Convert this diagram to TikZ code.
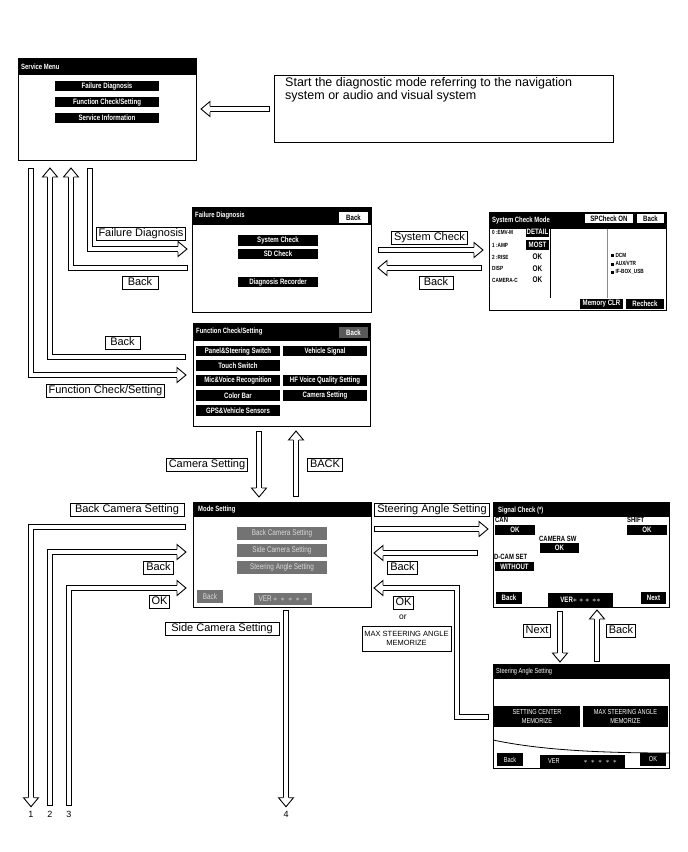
\documentclass[tikz,border=0pt]{standalone}
\usepackage{fontspec}
\setmainfont{Liberation Sans}
\newfontfamily\condfont[FakeStretch=0.78]{Liberation Sans}
\usetikzlibrary{calc}

% hollow pipe arrow: #1 head rotation, #2 path
\newcommand\hpipe[2]{%
  \draw[pipe] #2 coordinate (pipeend);
  \pic[rotate=#1] at (pipeend) {hhead};}

\begin{document}
\begin{tikzpicture}[
  x=1pt, y=-1pt,
  screen/.style={draw, line width=1pt, anchor=north west, inner sep=0pt},
  ttl/.style={anchor=west, text=white, inner sep=0pt,
              font=\condfont\bfseries\fontsize{7.6}{8}\selectfont},
  btn/.style={fill=black, text=white, inner sep=0pt, minimum height=10pt,
              font=\condfont\bfseries\fontsize{7.8}{8}\selectfont},
  wbtn/.style={btn, fill=white, text=black},
  gbtn/.style={btn, fill=black!55, text=white!85!black, minimum height=13pt,
               font=\condfont\fontsize{8.2}{9}\selectfont},
  sbtn/.style={btn, font=\condfont\fontsize{7.2}{8.4}\selectfont},
  sml/.style={anchor=west, inner sep=0pt,
              font=\condfont\bfseries\fontsize{6}{6.5}\selectfont},
  lab/.style={anchor=west, inner sep=0pt,
              font=\condfont\bfseries\fontsize{7.6}{8}\selectfont},
  val/.style={inner sep=0pt, font=\condfont\bfseries\fontsize{8.2}{9}\selectfont},
  box/.style={draw, line width=0.8pt, fill=white, inner xsep=2.4pt, inner ysep=1.4pt},
  lbl/.style={box, font=\fontsize{11}{12}\selectfont, text height=8pt, text depth=2.3pt},
  num/.style={font=\fontsize{9}{10}\selectfont, inner sep=1pt},
  pipe/.style={draw=white, line width=4.6pt, shorten <=0.9pt, shorten >=8.5pt,
               preaction={draw=black, line width=6.4pt, shorten <=0pt, shorten >=8.5pt}},
  hhead/.pic={\filldraw[draw=black, fill=white, line width=0.9pt, line join=miter]
                (-9,2.75) -- (-9,7.5) -- (0,0) -- (-9,-7.5) -- (-9,-2.75);}
]
\path[use as bounding box, fill=white] (0,0) rectangle (688,852);

% Service Menu
\node[screen, minimum width=178pt, minimum height=102pt] (sm) at (18,58) {};
\fill (sm.north west) rectangle ($(sm.north east)+(0,17)$);
\node[ttl] (smt) at (21,66.5) {Service Menu};
\node[btn, minimum width=104pt] (smfd) at (107,86) {Failure Diagnosis};
\node[btn, minimum width=104pt] (smfc) at (107,102) {Function Check/Setting};
\node[btn, minimum width=104pt] (smsi) at (107,118) {Service Information};

% note
\node[screen, minimum width=339pt, minimum height=67pt] (note) at (274,75) {};
\node[anchor=north west, align=left, inner sep=0pt, font=\fontsize{12.5}{13.5}\selectfont]
  (notetxt) at (285,77) {Start the diagnostic mode referring to the navigation\\system or audio and visual system};

% Failure Diagnosis
\node[screen, minimum width=179pt, minimum height=105pt] (fd) at (192,207) {};
\fill (fd.north west) rectangle ($(fd.north east)+(0,18)$);
\node[ttl] (fdt) at (195,216) {Failure Diagnosis};
\node[wbtn, minimum width=29pt, minimum height=11pt] (fdbk) at (353.5,217.5) {Back};
\node[btn, minimum width=80pt, minimum height=10.5pt] (fdsc) at (278,240.5) {System Check};
\node[btn, minimum width=80pt, minimum height=10.5pt] (fdsd) at (278,254) {SD Check};
\node[btn, minimum width=80pt, minimum height=10.5pt] (fddr) at (278,282) {Diagnosis Recorder};

% System Check Mode
\node[screen, minimum width=177pt, minimum height=98pt] (scm) at (489,212) {};
\fill (scm.north west) rectangle ($(scm.north east)+(0,17)$);
\node[ttl] (scmt) at (492,220.5) {System Check Mode};
\node[wbtn, minimum width=48pt, minimum height=9.5pt] (scmsp) at (609,218.5) {SPCheck ON};
\node[wbtn, minimum width=27pt, minimum height=9.5pt] (scmbk) at (650.5,218.5) {Back};
\node[sml] (scm0) at (492,232.5) {0 :EMV-M};
\node[sml] (scm1) at (492,245.5) {1 :AMP};
\node[sml] (scm2) at (492,257) {2 :RISE};
\node[sml] (scm3) at (492,268.5) {DISP};
\node[sml] (scm4) at (492,280) {CAMERA-C};
\node[btn, minimum width=23pt] (scmdt) at (537.5,232) {DETAIL};
\node[btn, minimum width=23pt] (scmmo) at (537.5,245) {MOST};
\node[val] (scmok1) at (537.5,257) {OK};
\node[val] (scmok2) at (537.5,268.5) {OK};
\node[val] (scmok3) at (537.5,280) {OK};
\draw[line width=0.8pt] (550,229) -- (550,298);
\draw[black!45, line width=1pt] (607,229) -- (607,298);
\node[sml] (scmdcm) at (611,255) {\rule{3pt}{3pt} DCM};
\node[sml] (scmaux) at (611,263.5) {\rule{3pt}{3pt} AUX/VTR};
\node[sml] (scmif) at (611,272) {\rule{3pt}{3pt} IF-BOX\_USB};
\node[btn, minimum width=43pt] (scmmc) at (601.5,304) {Memory CLR};
\node[btn, minimum width=38pt] (scmrc) at (645,304) {Recheck};

% Function Check/Setting
\node[screen, minimum width=177pt, minimum height=103pt] (fcs) at (193,323) {};
\fill (fcs.north west) rectangle ($(fcs.north east)+(0,18)$);
\node[ttl] (fcst) at (196,332) {Function Check/Setting};
\node[btn, fill=black!65, minimum width=29pt, minimum height=11pt] (fcsbk) at (353.5,332.5) {Back};
\node[btn, minimum width=84pt, minimum height=10.5pt] (fcsps) at (238,351) {Panel\&Steering Switch};
\node[btn, minimum width=84pt, minimum height=10.5pt] (fcsts) at (238,365.5) {Touch Switch};
\node[btn, minimum width=84pt, minimum height=10.5pt] (fcsmv) at (238,380.5) {Mic\&Voice Recognition};
\node[btn, minimum width=84pt, minimum height=10.5pt] (fcscb) at (238,395.5) {Color Bar};
\node[btn, minimum width=84pt, minimum height=10.5pt] (fcsgp) at (238,410.5) {GPS\&Vehicle Sensors};
\node[btn, minimum width=84pt, minimum height=10.5pt] (fcsvs) at (325,351) {Vehicle Signal};
\node[btn, minimum width=84pt, minimum height=10.5pt] (fcshf) at (325,380.5) {HF Voice Quality Setting};
\node[btn, minimum width=84pt, minimum height=10.5pt] (fcscs) at (325,395.5) {Camera Setting};

% Mode Setting
\node[screen, minimum width=178pt, minimum height=105pt] (ms) at (193,502) {};
\fill (ms.north west) rectangle ($(ms.north east)+(0,15)$);
\node[ttl] (mst) at (198,509.5) {Mode Setting};
\node[gbtn, minimum width=90pt] (msbc) at (282,533.5) {Back Camera Setting};
\node[gbtn, minimum width=90pt] (mssc) at (282,550.5) {Side Camera Setting};
\node[gbtn, minimum width=90pt] (mssa) at (282,567.5) {Steering Angle Setting};
\node[gbtn, minimum width=26pt] (msbk) at (210,596.5) {Back};
\node[gbtn, minimum width=58pt, minimum height=12pt] (msver) at (283,599) {VER\,$\ast\,\ast\,\ast\,\ast\,\ast$};

% Signal Check
\node[screen, minimum width=176pt, minimum height=105pt] (sig) at (493,502) {};
\fill (sig.north west) rectangle ($(sig.north east)+(0,15)$);
\node[ttl] (sigt) at (498,510.5) {Signal Check (*)};
\node[lab] (sigcan) at (495,520) {CAN};
\node[btn, minimum width=40pt] (sigok1) at (515,530) {OK};
\node[lab] (sigsh) at (627,520) {SHIFT};
\node[btn, minimum width=40pt] (sigok2) at (647,530) {OK};
\node[lab] (sigcs) at (539,539) {CAMERA SW};
\node[btn, minimum width=39pt] (sigok3) at (559.5,548) {OK};
\node[lab] (sigdc) at (494,557) {D-CAM SET};
\node[btn, minimum width=39pt, minimum height=9.5pt] (sigwo) at (514.5,566.5) {WITHOUT};
\node[btn, minimum width=26pt, minimum height=12pt] (sigbk) at (509,598) {Back};
\node[btn, minimum width=65pt, minimum height=14pt] (sigver) at (580.5,600) {VER$\ast\ast\ast$\,\,$\ast\ast$};
\node[btn, minimum width=25pt, minimum height=12pt] (signx) at (653.5,598) {Next};

% Steering Angle Setting
\node[screen, minimum width=176pt, minimum height=104pt] (sas) at (493,664) {};
\fill (sas.north west) rectangle ($(sas.north east)+(0,15)$);
\node[ttl, font=\condfont\fontsize{7.2}{8}\selectfont] (sast) at (496,671.5) {Steering Angle Setting};
\node[sbtn, align=center, minimum width=86pt, minimum height=21pt] (sassc) at (537,716.5) {SETTING CENTER\\MEMORIZE};
\node[sbtn, align=center, minimum width=85pt, minimum height=21pt] (sasmx) at (625.5,716.5) {MAX STEERING ANGLE\\MEMORIZE};
\draw[line width=0.8pt] (sas.west |- 0,740) .. controls (540,750) and (600,753) .. (sas.east |- 0,753);
\node[sbtn, minimum width=26pt, minimum height=13pt] (sasbk) at (510,759.5) {Back};
\node[sbtn, minimum width=85pt, minimum height=13pt] (sasver) at (582.5,761.5) {VER\hspace{24pt}$\ast\,\ast\,\ast\,\ast\,\ast$};
\node[sbtn, minimum width=26pt, minimum height=13pt] (sasok) at (653,759.5) {OK};

% end numbers
\node[num] (n1) at (31,814) {1};
\node[num] (n2) at (50,814) {2};
\node[num] (n3) at (69,814) {3};
\node[num] (n4) at (286,814) {4};

% pipes
\hpipe{180}{($(note.west)+(-4,0)$) -- ($(sm.east |- note.west)+(4,0)$)}
\hpipe{0}{($(90,0 |- sm.south)+(0,7)$) |- ($(fd.west |- 0,249)+(-5,0)$)}
\hpipe{90}{($(fd.west |- 0,268)+(-4,0)$) -| ($(71,0 |- sm.south)+(0,7)$)}
\hpipe{90}{($(fcs.west |- 0,357)+(-7,0)$) -| ($(50,0 |- sm.south)+(0,7)$)}
\hpipe{0}{($(31,0 |- sm.south)+(0,7)$) |- ($(fcs.west |- 0,375)+(-7,0)$)}
\hpipe{0}{($(fd.east |- 0,250)+(6,0)$) -- ($(scm.west |- 0,250)+(-6,0)$)}
\hpipe{180}{($(scm.west |- 0,268)+(-7,0)$) -- ($(fd.east |- 0,268)+(6,0)$)}
\hpipe{-90}{($(259,0 |- fcs.south)+(0,4)$) -- ($(259,0 |- ms.north)+(0,-5)$)}
\hpipe{90}{($(296,0 |- ms.north)+(0,-5)$) -- ($(296,0 |- fcs.south)+(0,4)$)}
\hpipe{-90}{($(ms.west |- 0,527)+(-7,0)$) -| ($(n1.north)+(0,-3)$)}
\hpipe{0}{($(n2.north)+(0,-4)$) |- ($(ms.west |- 0,552)+(-7,0)$)}
\hpipe{0}{($(n3.north)+(0,-4)$) |- ($(ms.west |- 0,588)+(-7,0)$)}
\hpipe{-90}{($(n4 |- ms.south)+(0,2)$) -- ($(n4.north)+(0,-3)$)}
\hpipe{0}{($(ms.east |- 0,529)+(2,0)$) -- ($(sig.west |- 0,529)+(-5,0)$)}
\hpipe{180}{($(sig.west |- 0,553)+(-15,0)$) -- ($(ms.east |- 0,553)+(2,0)$)}
\hpipe{180}{($(sas.west |- 0,717)+(-4,0)$) -- ++(-32,0) |- ($(ms.east |- 0,588)+(2,0)$)}
\hpipe{-90}{($(560,0 |- sig.south)+(0,3)$) -- ($(560,0 |- sas.north)+(0,-2)$)}
\hpipe{90}{($(597,0 |- sas.north)+(0,-2)$) -- ($(597,0 |- sig.south)+(0,2)$)}

% labels
\node[lbl] (lfd) at (141,233.5) {Failure Diagnosis};
\node[lbl, minimum width=36pt] (lbk1) at (140,283) {Back};
\node[lbl] (lsc) at (429.5,237.5) {System Check};
\node[lbl, minimum width=34pt] (lbk2) at (436,283) {Back};
\node[lbl, minimum width=35pt] (lbk3) at (122.5,342.5) {Back};
\node[lbl] (lfc) at (105.5,390.5) {Function Check/Setting};
\node[lbl] (lcs) at (207,465) {Camera Setting};
\node[lbl] (lbk4) at (325,465) {BACK};
\node[lbl, minimum width=114pt] (lbcs) at (127,509.5) {Back Camera Setting};
\node[lbl] (lbk5) at (158.5,567.5) {Back};
\node[lbl] (lok1) at (159.5,601.5) {OK};
\node[lbl, minimum width=114pt] (lscs) at (222,628.5) {Side Camera Setting};
\node[lbl, minimum width=114pt] (lsas) at (432,510) {Steering Angle Setting};
\node[lbl] (lbk6) at (402.5,568) {Back};
\node[lbl] (lok2) at (403.5,602.5) {OK};
\node[inner sep=0pt, font=\fontsize{8.5}{9}\selectfont] (lor) at (403,617) {or};
\node[box, align=center, font=\fontsize{7.5}{9}\selectfont, minimum width=89pt, minimum height=25pt]
  (lmax) at (406.5,638.5) {MAX STEERING ANGLE\\MEMORIZE};
\node[lbl] (lnx) at (537,631) {Next};
\node[lbl] (lbk7) at (621,631) {Back};
\end{tikzpicture}
\end{document}
